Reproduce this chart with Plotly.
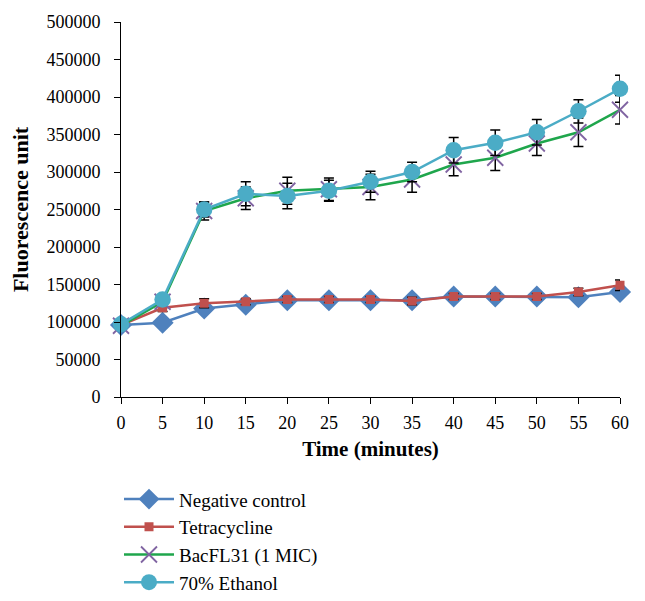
import plotly.graph_objects as go

time = [0, 5, 10, 15, 20, 25, 30, 35, 40, 45, 50, 55, 60]

neg_control = [96000, 99000, 118000, 123000, 129000, 129000, 129000, 129000, 134000, 134000, 134000, 133000, 140000]
neg_err = [3000, 3000, 4000, 3000, 3000, 3000, 3000, 3000, 3000, 3000, 3000, 3000, 3000]

tetracycline = [96000, 119000, 125000, 127000, 130000, 130000, 130000, 128000, 134000, 134000, 134000, 140000, 149000]
tet_err = [3000, 5000, 6000, 4000, 4000, 4000, 4000, 5000, 4000, 4000, 4000, 5000, 7000]

bacfl31 = [95000, 127000, 248000, 265000, 275000, 277000, 280000, 290000, 310000, 319000, 338000, 353000, 383000]
bac_err = [4000, 6000, 12000, 15000, 18000, 15000, 17000, 17000, 15000, 17000, 16000, 19000, 19000]

ethanol = [97000, 130000, 250000, 271000, 268000, 275000, 287000, 300000, 329000, 339000, 353000, 381000, 411000]
eth_err = [4000, 6000, 10000, 16000, 17000, 14000, 14000, 13000, 17000, 17000, 17000, 15500, 18000]

names = ["Negative control", "Tetracycline", "BacFL31 (1 MIC)", "70% Ethanol"]

fig = go.Figure()

def err(arr):
    return dict(type="data", array=arr, visible=True, color="black", thickness=1.5, width=5)

fig.add_trace(go.Scatter(
    x=time, y=neg_control, name=names[0], mode="lines+markers",
    line=dict(color="#4F81BD", width=2.5),
    marker=dict(symbol="diamond", size=17, color="#4F81BD"),
    error_y=err(neg_err), cliponaxis=False))

fig.add_trace(go.Scatter(
    x=time, y=tetracycline, name=names[1], mode="lines+markers",
    line=dict(color="#C0504D", width=2.5),
    marker=dict(symbol="square", size=9, color="#C0504D"),
    error_y=err(tet_err), cliponaxis=False))

fig.add_trace(go.Scatter(
    x=time, y=bacfl31, name=names[2], mode="lines+markers",
    line=dict(color="#1FA64C", width=2.5),
    marker=dict(symbol="x-thin-open", size=16, color="#8064A2",
                line=dict(color="#8064A2", width=1.8)),
    error_y=err(bac_err), cliponaxis=False))

fig.add_trace(go.Scatter(
    x=time, y=ethanol, name=names[3], mode="lines+markers",
    line=dict(color="#4BACC6", width=2.5),
    marker=dict(symbol="circle", size=16.5, color="#4BACC6"),
    error_y=err(eth_err), cliponaxis=False))

font_family = "Liberation Serif"

fig.update_layout(
    width=645, height=601,
    margin=dict(l=113, r=33, t=14, b=212, autoexpand=False),
    paper_bgcolor="white", plot_bgcolor="white",
    font=dict(family=font_family, color="black", size=18),
    showlegend=True,
    legend=dict(x=-0.004, y=-0.222, xanchor="left", yanchor="top",
                font=dict(family=font_family, size=19, color="black"),
                bgcolor="rgba(0,0,0,0)", itemwidth=50, tracegroupgap=0),
    xaxis=dict(
        range=[0, 60], tickmode="array", tickvals=time,
        ticks="outside", ticklen=6, tickcolor="black", tickwidth=1,
        showline=True, linecolor="black", linewidth=1,
        showgrid=False, zeroline=False, automargin=False,
        ticklabelstandoff=3,
        tickfont=dict(family=font_family, size=18),
        title=dict(text="<b>Time (minutes)</b>", font=dict(family=font_family, size=21), standoff=9),
    ),
    yaxis=dict(
        range=[0, 500000], dtick=50000, tickformat="d",
        ticks="outside", ticklen=6, tickcolor="black", tickwidth=1,
        showline=True, linecolor="black", linewidth=1,
        showgrid=False, zeroline=False, automargin=False,
        ticklabelstandoff=10,
        tickfont=dict(family=font_family, size=18),
        title=dict(text="<b>Fluorescence unit</b>", font=dict(family=font_family, size=22)),
    ),
)

fig.write_html("out.html")
